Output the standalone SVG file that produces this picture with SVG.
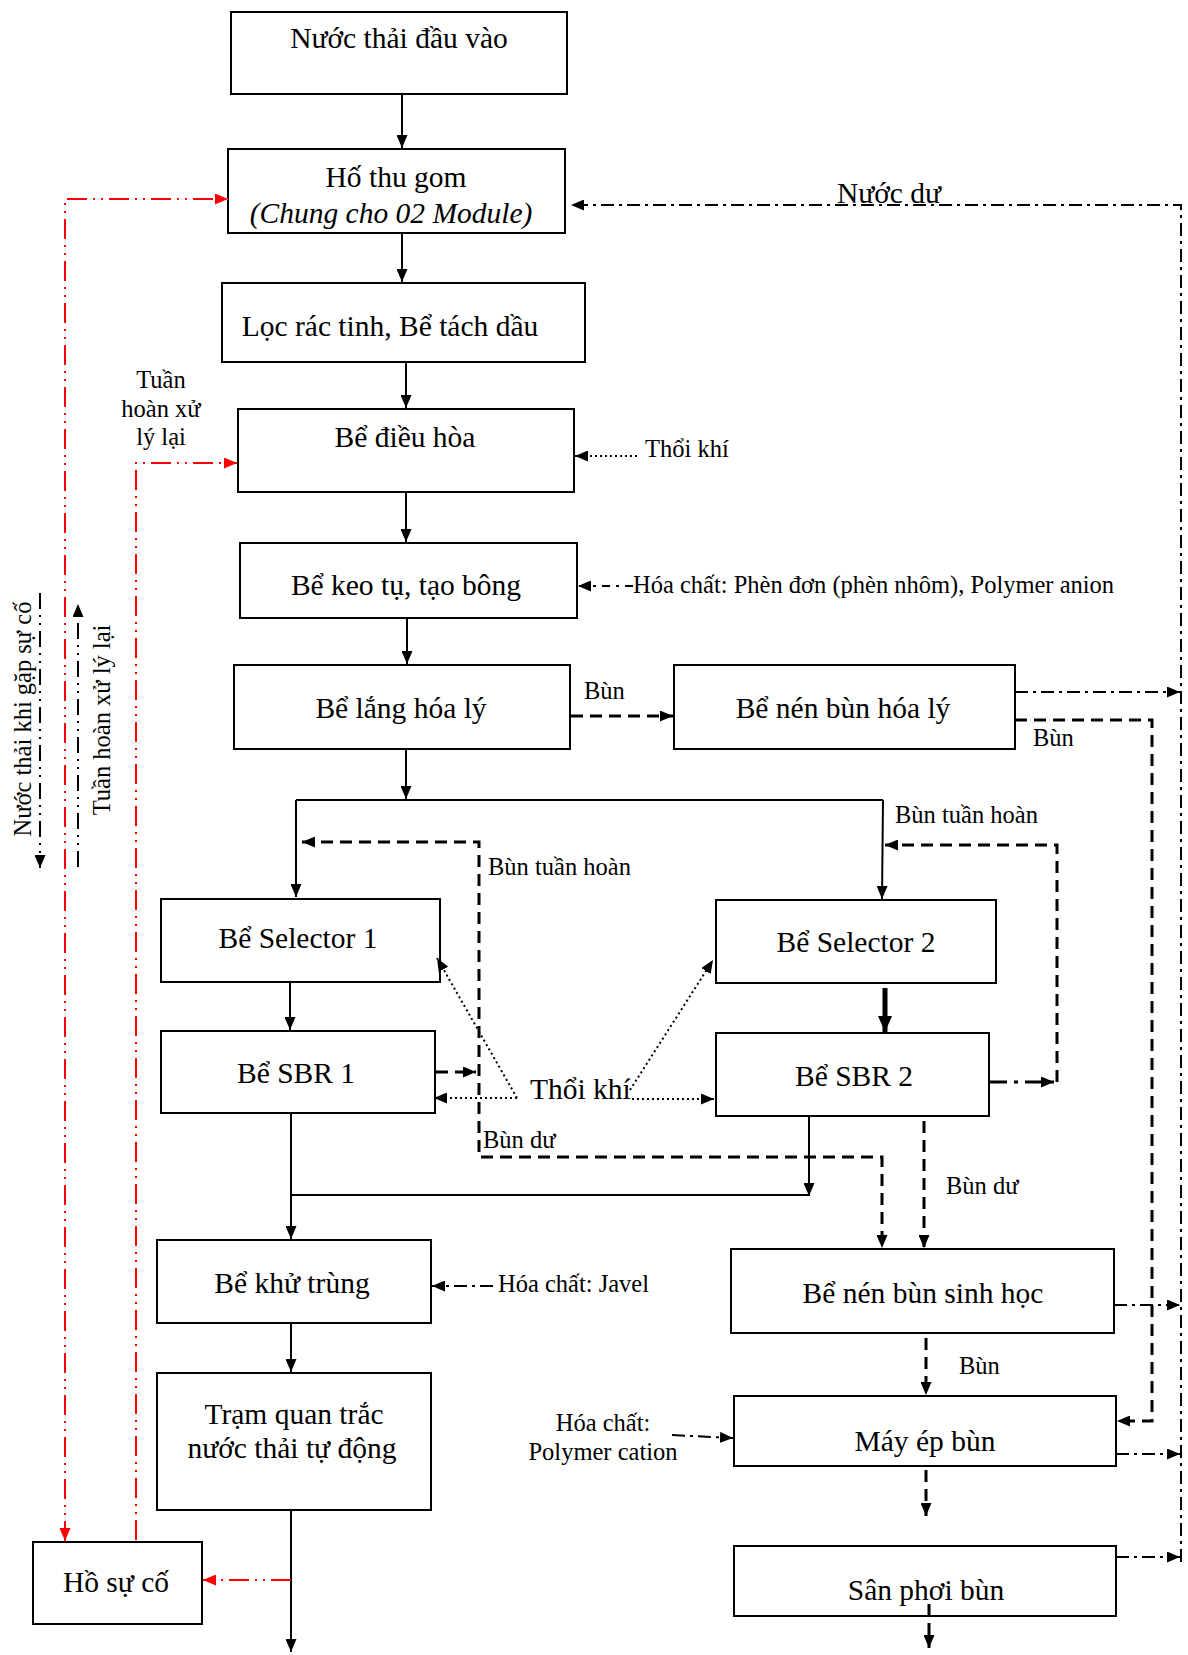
<svg xmlns="http://www.w3.org/2000/svg" width="1188" height="1655" viewBox="0 0 1188 1655">
<style>
.bg{fill:#fff}
.box{fill:#fff;stroke:#000;stroke-width:2}
.t{font-family:"Liberation Serif","Times New Roman",serif;font-size:29.5px;fill:#000;text-anchor:middle}
.it{font-style:italic}
.l{font-family:"Liberation Serif","Times New Roman",serif;font-size:24.5px;fill:#000}
.big{font-family:"Liberation Serif","Times New Roman",serif;font-size:29.5px;fill:#000}
.s{fill:none;stroke:#000;stroke-width:2}
.dash{fill:none;stroke:#000;stroke-width:3;stroke-dasharray:12 7}
.dd{fill:none;stroke:#000;stroke-width:2;stroke-dasharray:13 5 3 5}
.dot{fill:none;stroke:#000;stroke-width:2;stroke-dasharray:2 3}
.ddd{fill:none;stroke:#000;stroke-width:2;stroke-dasharray:16 6 2 6 2 6}
.red{fill:none;stroke:#f00;stroke-width:2;stroke-dasharray:20 6 2 6 2 6}
</style>
<defs>
<marker id="a" viewBox="0 0 13 11" refX="13" refY="5.5" markerWidth="13" markerHeight="11" markerUnits="userSpaceOnUse" orient="auto-start-reverse"><path d="M0,0L13,5.5L0,11z" fill="#000"/></marker>
<marker id="ar" viewBox="0 0 13 11" refX="13" refY="5.5" markerWidth="13" markerHeight="11" markerUnits="userSpaceOnUse" orient="auto-start-reverse"><path d="M0,0L13,5.5L0,11z" fill="#f00"/></marker>
<marker id="ab" viewBox="0 0 16 14" refX="16" refY="7" markerWidth="16" markerHeight="14" markerUnits="userSpaceOnUse" orient="auto"><path d="M0,0L16,7L0,14z" fill="#000"/></marker>
</defs>
<rect class="bg" x="0" y="0" width="1188" height="1655"/>

<g id="nuoc-thai-dau-vao"><rect class="box" x="231" y="12" width="336" height="82"/><text class="t" x="399" y="48">Nước thải đầu vào</text></g>
<g id="ho-thu-gom"><rect class="box" x="228" y="149" width="337" height="84"/><text class="t" x="396" y="187">Hố thu gom</text><text class="t it" x="391" y="223">(Chung cho 02 Module)</text></g>
<g id="loc-rac"><rect class="box" x="222" y="283" width="363" height="79"/><text class="t" x="390" y="336">Lọc rác tinh, Bể tách dầu</text></g>
<g id="be-dieu-hoa"><rect class="box" x="238" y="409" width="336" height="83"/><text class="t" x="405" y="447">Bể điều hòa</text></g>
<g id="be-keo-tu"><rect class="box" x="240" y="543" width="337" height="75"/><text class="t" x="406" y="595">Bể keo tụ, tạo bông</text></g>
<g id="be-lang-hoa-ly"><rect class="box" x="234" y="665" width="336" height="84"/><text class="t" x="401" y="718">Bể lắng hóa lý</text></g>
<g id="be-nen-bun-hoa-ly"><rect class="box" x="674" y="665" width="341" height="84"/><text class="t" x="843" y="718">Bể nén bùn hóa lý</text></g>
<g id="be-selector-1"><rect class="box" x="161" y="899" width="279" height="83"/><text class="t" x="298" y="948">Bể Selector 1</text></g>
<g id="be-selector-2"><rect class="box" x="716" y="900" width="280" height="83"/><text class="t" x="856" y="952">Bể Selector 2</text></g>
<g id="be-sbr-1"><rect class="box" x="161" y="1031" width="274" height="82"/><text class="t" x="296" y="1083">Bể SBR 1</text></g>
<g id="be-sbr-2"><rect class="box" x="716" y="1033" width="273" height="83"/><text class="t" x="854" y="1086">Bể SBR 2</text></g>
<g id="be-khu-trung"><rect class="box" x="157" y="1240" width="274" height="83"/><text class="t" x="292" y="1293">Bể khử trùng</text></g>
<g id="tram-quan-trac"><rect class="box" x="157" y="1373" width="274" height="137"/><text class="t" x="294" y="1424">Trạm quan trắc</text><text class="t" x="292" y="1458">nước thải tự động</text></g>
<g id="ho-su-co"><rect class="box" x="33" y="1542" width="169" height="82"/><text class="t" x="116" y="1592">Hồ sự cố</text></g>
<g id="be-nen-bun-sinh-hoc"><rect class="box" x="731" y="1249" width="383" height="84"/><text class="t" x="923" y="1303">Bể nén bùn sinh học</text></g>
<g id="may-ep-bun"><rect class="box" x="734" y="1396" width="382" height="70"/><text class="t" x="925" y="1451">Máy ép bùn</text></g>
<g id="san-phoi-bun"><rect class="box" x="734" y="1546" width="382" height="70"/><text class="t" x="926" y="1600">Sân phơi bùn</text></g>

<g id="connectors">
<path class="s" d="M402,94V148" marker-end="url(#a)"/>
<path class="s" d="M402,233V282" marker-end="url(#a)"/>
<path class="s" d="M406,362V408" marker-end="url(#a)"/>
<path class="s" d="M406,492V542" marker-end="url(#a)"/>
<path class="s" d="M407,618V664" marker-end="url(#a)"/>
<path class="s" d="M406,749V799" marker-end="url(#a)"/>
<path class="s" d="M296,800H883"/>
<path class="s" d="M296,800V897" marker-end="url(#a)"/>
<path class="s" d="M883,800L882,899" marker-end="url(#a)"/>
<path class="s" d="M290,982V1030" marker-end="url(#a)"/>
<path class="s" style="stroke-width:5" d="M885,988V1032" marker-end="url(#ab)"/>
<path class="s" d="M291,1113V1239" marker-end="url(#a)"/>
<path class="s" d="M291,1195H809"/>
<path class="s" d="M809,1116V1196" marker-end="url(#a)"/>
<path class="s" d="M291,1323V1372" marker-end="url(#a)"/>
<path class="s" d="M291,1510V1652" marker-end="url(#a)"/>
<path class="red" d="M291,1580H203" marker-end="url(#ar)"/>
<path class="red" d="M65,1541V199H228" marker-start="url(#ar)" marker-end="url(#ar)"/>
<path class="red" d="M136,1540V463H237" marker-end="url(#ar)"/>
<path class="dd" d="M1181,1562V205H571" marker-end="url(#a)"/>
<path class="dd" d="M1015,692H1180" marker-end="url(#a)"/>
<path class="dd" d="M1114,1305H1180" marker-end="url(#a)"/>
<path class="dd" d="M1116,1454H1180" marker-end="url(#a)"/>
<path class="dd" d="M1116,1557H1180" marker-end="url(#a)"/>
<path class="dot" d="M637,456H575" marker-end="url(#a)"/>
<path class="dd" style="stroke-dasharray:8 6 3 6" d="M633,586H578" marker-end="url(#a)"/>
<path class="dash" d="M571,716H673" marker-end="url(#a)"/>
<path class="dash" d="M1015,720H1152V1421H1117" marker-end="url(#a)"/>
<path class="dash" d="M436,1072H476" marker-end="url(#a)"/>
<path class="dash" d="M302,842H479V1157H882V1248" marker-start="url(#a)" marker-end="url(#a)"/>
<path class="dd" style="stroke-width:3;stroke-dasharray:18 7 4 7" d="M989,1082H1054" marker-end="url(#a)"/>
<path class="dash" d="M1057,1082V845H885" marker-end="url(#a)"/>
<path class="dash" d="M924,1121V1248" marker-end="url(#a)"/>
<path class="dash" d="M926,1338V1395" marker-end="url(#a)"/>
<path class="dash" d="M926,1470V1516" marker-end="url(#a)"/>
<path class="dash" d="M929,1604V1648" marker-end="url(#a)"/>
<path class="dd" d="M672,1435L733,1438" marker-end="url(#a)"/>
<path class="dd" d="M493,1286H432" marker-end="url(#a)"/>
<path class="dot" d="M517,1098L437,958" marker-end="url(#a)"/>
<path class="dot" d="M517,1098H434" marker-end="url(#a)"/>
<path class="dot" d="M630,1090L713,960" marker-end="url(#a)"/>
<path class="dot" d="M632,1099H714" marker-end="url(#a)"/>
<path class="ddd" d="M40,593V868" marker-end="url(#a)"/>
<path class="ddd" d="M78,867V604" marker-end="url(#a)"/>
</g>

<g id="labels">
<text class="t" x="889" y="203">Nước dư</text>
<text class="l" x="645" y="457">Thổi khí</text>
<text class="l" x="633" y="593">Hóa chất: Phèn đơn (phèn nhôm), Polymer anion</text>
<text class="l" x="584" y="699">Bùn</text>
<text class="l" x="1033" y="746">Bùn</text>
<text class="l" text-anchor="middle" x="161" y="388">Tuần</text>
<text class="l" text-anchor="middle" x="161" y="417">hoàn xử</text>
<text class="l" text-anchor="middle" x="161" y="445">lý lại</text>
<text class="l" x="488" y="875">Bùn tuần hoàn</text>
<text class="l" x="895" y="823">Bùn tuần hoàn</text>
<text class="big" x="530" y="1099">Thổi khí</text>
<text class="l" x="483" y="1148">Bùn dư</text>
<text class="l" x="946" y="1194">Bùn dư</text>
<text class="l" x="498" y="1292">Hóa chất: Javel</text>
<text class="l" x="959" y="1374">Bùn</text>
<text class="l" text-anchor="middle" x="603" y="1431">Hóa chất:</text>
<text class="l" text-anchor="middle" x="603" y="1460">Polymer cation</text>
<text class="l" text-anchor="middle" transform="translate(31,719) rotate(-90)">Nước thải khi gặp sự cố</text>
<text class="l" text-anchor="middle" transform="translate(110,720) rotate(-90)">Tuần hoàn xử lý lại</text>
</g>
</svg>
